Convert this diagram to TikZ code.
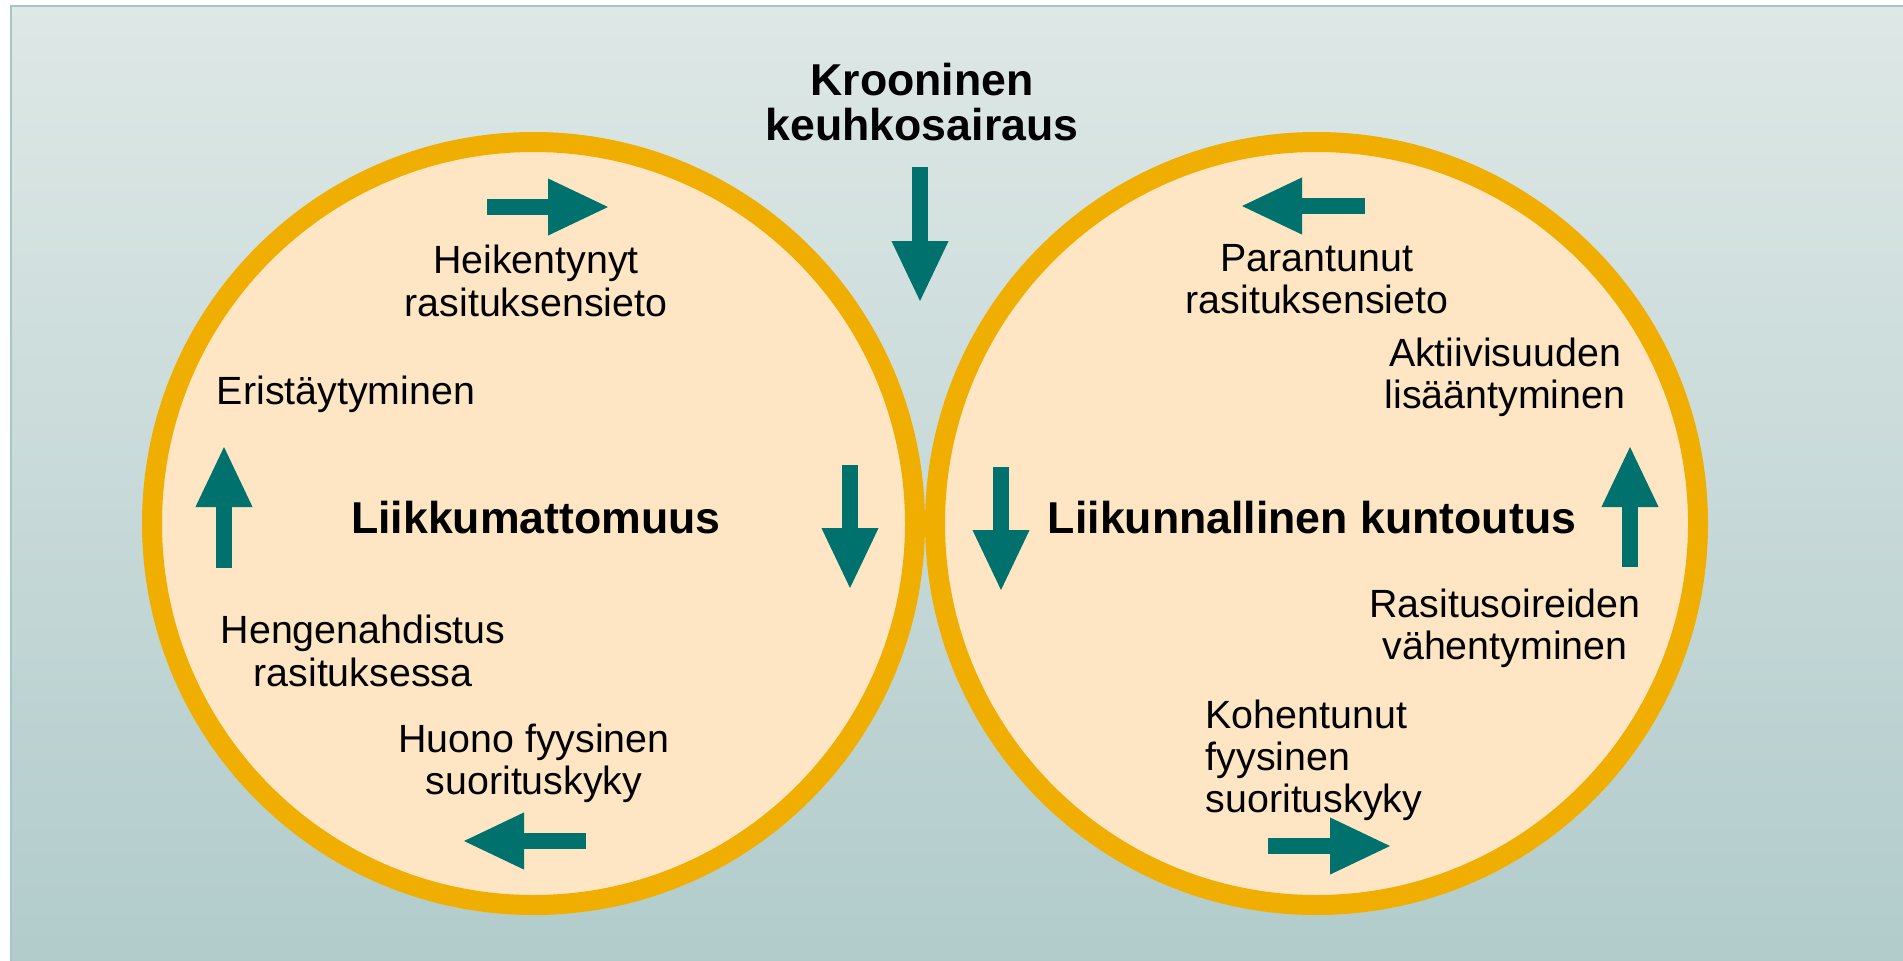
\documentclass[tikz,border=0pt]{standalone}
\usepackage{fontspec}
\setmainfont{Liberation Sans}
\usetikzlibrary{arrows.meta}
\tikzset{
    ring/.style={line width=0.2cm, draw=ringc, fill=peach},
    flow/.style={line width=0.16cm, draw=teal1, -{Triangle[length=0.62cm, width=0.52cm]}},
    txt/.style={align=center, inner sep=0pt, font=\fontsize{11.2}{12}\selectfont},
    big/.style={align=center, inner sep=0pt, font=\fontsize{12.7}{13}\selectfont\bfseries}
}
\begin{document}
\begin{tikzpicture}
            \definecolor{bgtop}{HTML}{DEE8E6}
            \definecolor{bgbot}{HTML}{AFCACA}
            \definecolor{bgframe}{HTML}{A6C6C6}
            \definecolor{ringc}{HTML}{F0AE00}
            \definecolor{peach}{HTML}{FEE6C5}
            \definecolor{teal1}{HTML}{00716D}
            \useasboundingbox (0,0) rectangle (19.03,9.60);
            \clip (0,0) rectangle (19.03,9.60);
            \fill[white] (0,0) rectangle (19.03,9.60);
            \shade[top color=bgtop, bottom color=bgbot, draw=bgframe, line width=0.02cm] (0.11,-0.5) rectangle (19.5,9.54);
            \draw[ring] ( 5.335,4.365) circle (3.815cm);
            \draw[ring] (13.165,4.365) circle (3.815cm);
            % otsikko
            \node[big] (kroon) at (9.22,8.58) {Krooninen\\keuhkosairaus};
            % vasen kierre
            \node[big] (liikk)  at (5.36,4.42) {Liikkumattomuus};
            \node[txt] (heik)   at (5.36,6.79) {Heikentynyt\\rasituksensieto};
            \node[txt] (erist)  at (3.46,5.66) {Eristäytyminen};
            \node[txt] (hengen) at (3.63,3.09) {Hengenahdistus\\rasituksessa};
            \node[txt] (huono)  at (5.34,1.97) {Huono fyysinen\\suorituskyky};
            % oikea kierre
            \node[big] (liikun) at (13.12,4.42) {Liikunnallinen kuntoutus};
            \node[txt] (parant) at (13.17,6.81) {Parantunut\\rasituksensieto};
            \node[txt] (aktiiv) at (15.05,5.83) {Aktiivisuuden\\lisääntyminen};
            \node[txt] (rasit)  at (15.05,3.32) {Rasitusoireiden\\vähentyminen};
            \node[txt, align=left, anchor=west] (kohent) at (12.05,2.00) {Kohentunut\\fyysinen\\suorituskyky};
            % nuolet
            \coordinate (k-a)  at ( 9.20,7.93); \coordinate (k-b)  at ( 9.20,6.57);
            \coordinate (lt-a) at ( 4.87,7.53); \coordinate (lt-b) at ( 6.10,7.53);
            \coordinate (lr-a) at ( 8.50,4.95); \coordinate (lr-b) at ( 8.50,3.70);
            \coordinate (lb-a) at ( 5.86,1.19); \coordinate (lb-b) at ( 4.62,1.19);
            \coordinate (ll-a) at ( 2.24,3.92); \coordinate (ll-b) at ( 2.24,5.15);
            \coordinate (rt-a) at (13.65,7.54); \coordinate (rt-b) at (12.40,7.54);
            \coordinate (rl-a) at (10.01,4.93); \coordinate (rl-b) at (10.01,3.68);
            \coordinate (rb-a) at (12.68,1.14); \coordinate (rb-b) at (13.92,1.14);
            \coordinate (rr-a) at (16.30,3.93); \coordinate (rr-b) at (16.30,5.15);
            \draw[flow] (k-a)  -- (k-b);
            \draw[flow] (lt-a) -- (lt-b);
            \draw[flow] (lr-a) -- (lr-b);
            \draw[flow] (lb-a) -- (lb-b);
            \draw[flow] (ll-a) -- (ll-b);
            \draw[flow] (rt-a) -- (rt-b);
            \draw[flow] (rl-a) -- (rl-b);
            \draw[flow] (rb-a) -- (rb-b);
            \draw[flow] (rr-a) -- (rr-b);
        \end{tikzpicture}
\end{document}
